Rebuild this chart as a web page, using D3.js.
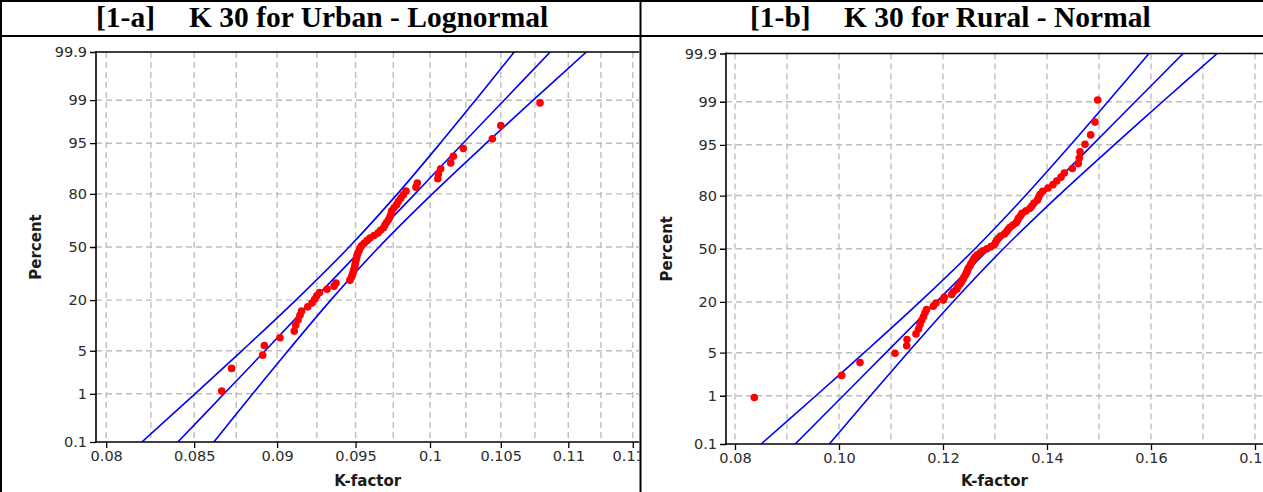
<!DOCTYPE html>
<html>
<head>
<meta charset="utf-8">
<script src="https://cdn.jsdelivr.net/npm/d3@7/dist/d3.min.js"></script>
<style>
body { margin: 0; background: #fff; }
</style>
</head>
<body>
<svg id="chart" width="1263" height="492"></svg>
<script>
// ---------------- data ----------------
var pctTicks = [0.1, 1, 5, 20, 50, 80, 95, 99, 99.9];
var urbanTicks = [0.08, 0.085, 0.09, 0.095, 0.1, 0.105, 0.11, 0.115];
var urbanGrid = [0.08, 0.0825, 0.085, 0.0875, 0.09, 0.0925, 0.095, 0.0975, 0.1, 0.1025, 0.105, 0.1075, 0.11, 0.1125, 0.115];
var ruralTicks = [0.08, 0.10, 0.12, 0.14, 0.16, 0.18];
var ruralGrid = [0.08, 0.09, 0.10, 0.11, 0.12, 0.13, 0.14, 0.15, 0.16, 0.17, 0.18];

// urban points (K-factor, percent)
var urbanK = [0.08663, 0.08722, 0.08911, 0.08921, 0.09018, 0.09107, 0.09116, 0.09131, 0.09143, 0.09153,
  0.09192, 0.09219, 0.09236, 0.09249, 0.09267, 0.09315, 0.09360, 0.09373, 0.09463, 0.09473,
  0.09480, 0.09485, 0.09490, 0.09495, 0.09498, 0.09501, 0.09505, 0.09509, 0.09514, 0.09522,
  0.09529, 0.09539, 0.09556, 0.09575, 0.09595, 0.09622, 0.09648, 0.09665, 0.09685, 0.09694,
  0.09706, 0.09719, 0.09728, 0.09735, 0.09740, 0.09755, 0.09773, 0.09784, 0.09800, 0.09818,
  0.09836, 0.09904, 0.09913, 0.10054, 0.10058, 0.10074, 0.10144, 0.10162, 0.10232, 0.10439,
  0.10500, 0.10788];
var urbanPct = [1.12, 2.72, 4.33, 5.93, 7.53, 9.13, 10.74, 12.34, 13.94, 15.54,
  17.15, 18.75, 20.35, 21.96, 23.56, 25.16, 26.76, 28.37, 29.97, 31.57,
  33.17, 34.78, 36.38, 37.98, 39.58, 41.19, 42.79, 44.39, 45.99, 47.60,
  49.20, 50.80, 52.40, 54.01, 55.61, 57.21, 58.81, 60.42, 62.02, 63.62,
  65.22, 66.83, 68.43, 70.03, 71.63, 73.24, 74.84, 76.44, 78.04, 79.65,
  81.25, 82.85, 84.46, 86.06, 87.66, 89.26, 90.87, 92.47, 94.07, 95.67,
  97.28, 98.88];

// rural points (K-factor, percent)
var ruralK = [0.08371, 0.10052, 0.10404, 0.11077, 0.11302, 0.11308, 0.11481, 0.11529, 0.11558, 0.11590,
  0.11625, 0.11654, 0.11683, 0.11813, 0.11865, 0.12006, 0.12025, 0.12167, 0.12198, 0.12263,
  0.12288, 0.12327, 0.12356, 0.12385, 0.12404, 0.12433, 0.12456, 0.12471, 0.12490, 0.12519,
  0.12538, 0.12567, 0.12587, 0.12615, 0.12654, 0.12712, 0.12769, 0.12846, 0.12923, 0.12990,
  0.13010, 0.13033, 0.13067, 0.13106, 0.13183, 0.13221, 0.13250, 0.13288, 0.13346, 0.13404,
  0.13433, 0.13452, 0.13490, 0.13519, 0.13596, 0.13673, 0.13712, 0.13750, 0.13813, 0.13837,
  0.13865, 0.13917, 0.14019, 0.14115, 0.14187, 0.14269, 0.14333, 0.14487, 0.14602, 0.14621,
  0.14635, 0.14731, 0.14840, 0.14923, 0.14975];
var ruralPct = [0.93, 2.25, 3.58, 4.91, 6.23, 7.56, 8.89, 10.21, 11.54, 12.86,
  14.19, 15.52, 16.84, 18.17, 19.50, 20.82, 22.15, 23.47, 24.80, 26.13,
  27.45, 28.78, 30.11, 31.43, 32.76, 34.08, 35.41, 36.74, 38.06, 39.39,
  40.72, 42.04, 43.37, 44.69, 46.02, 47.35, 48.67, 50.00, 51.33, 52.65,
  53.98, 55.31, 56.63, 57.96, 59.28, 60.61, 61.94, 63.26, 64.59, 65.92,
  67.24, 68.57, 69.89, 71.22, 72.55, 73.87, 75.20, 76.53, 77.85, 79.18,
  80.50, 81.83, 83.16, 84.48, 85.81, 87.14, 88.46, 89.79, 91.11, 92.44,
  93.77, 95.09, 96.42, 97.75, 99.07];

// fitted line and 95% confidence band, read at the percent ticks
var bandPct = [0.1, 1, 5, 20, 50, 80, 95, 99, 99.9];
var urbanFit = [0.08405, 0.08677, 0.08926, 0.09226, 0.09556, 0.09897, 0.10230, 0.10524, 0.10864];
var urbanLo = [0.08199, 0.08505, 0.08784, 0.09117, 0.09458, 0.09778, 0.10071, 0.10318, 0.10598];
var urbanHi = [0.08616, 0.08850, 0.09068, 0.09339, 0.09655, 0.10016, 0.10395, 0.10737, 0.11138];
var ruralFit = [0.09158, 0.10081, 0.10903, 0.11872, 0.12888, 0.13904, 0.14874, 0.15696, 0.16618];
var ruralLo = [0.08502, 0.09555, 0.10484, 0.11554, 0.12615, 0.13586, 0.14455, 0.15170, 0.15962];
var ruralHi = [0.09814, 0.10606, 0.11322, 0.12190, 0.13161, 0.14222, 0.15293, 0.16221, 0.17274];

// ---------------- helpers ----------------
// inverse standard normal cdf (Acklam), used for the probability axis
function probit(p) {
  var a = [-3.969683028665376e+01, 2.209460984245205e+02, -2.759285104469687e+02, 1.383577518672690e+02, -3.066479806614716e+01, 2.506628277459239e+00];
  var b = [-5.447609879822406e+01, 1.615858368580409e+02, -1.556989798598866e+02, 6.680131188771972e+01, -1.328068155288572e+01];
  var c = [-7.784894002430293e-03, -3.223964580411365e-01, -2.400758277161838e+00, -2.549732539343734e+00, 4.374664141464968e+00, 2.938163982698783e+00];
  var d = [7.784695709041462e-03, 3.224671290700398e-01, 2.445134137142996e+00, 3.754408661907416e+00];
  var pl = 0.02425, q, r;
  if (p < pl) {
    q = Math.sqrt(-2 * Math.log(p));
    return (((((c[0]*q+c[1])*q+c[2])*q+c[3])*q+c[4])*q+c[5]) / ((((d[0]*q+d[1])*q+d[2])*q+d[3])*q+1);
  }
  if (p > 1 - pl) {
    q = Math.sqrt(-2 * Math.log(1 - p));
    return -(((((c[0]*q+c[1])*q+c[2])*q+c[3])*q+c[4])*q+c[5]) / ((((d[0]*q+d[1])*q+d[2])*q+d[3])*q+1);
  }
  q = p - 0.5; r = q * q;
  return (((((a[0]*r+a[1])*r+a[2])*r+a[3])*r+a[4])*r+a[5])*q / (((((b[0]*r+b[1])*r+b[2])*r+b[3])*r+b[4])*r+1);
}

var svg = d3.select("#chart");
var tickFont = "'DejaVu Sans', Verdana, sans-serif";

// ---------------- table frame + titles ----------------
svg.append("line").attr("x1", 0).attr("x2", 1263).attr("y1", 1).attr("y2", 1).attr("stroke", "#000").attr("stroke-width", 2);
svg.append("line").attr("x1", 0).attr("x2", 1263).attr("y1", 36).attr("y2", 36).attr("stroke", "#000").attr("stroke-width", 2);
svg.append("line").attr("x1", 1).attr("x2", 1).attr("y1", 0).attr("y2", 492).attr("stroke", "#000").attr("stroke-width", 2);
svg.append("line").attr("x1", 640.5).attr("x2", 640.5).attr("y1", 0).attr("y2", 492).attr("stroke", "#000").attr("stroke-width", 2);

function title(x1, x2, tag, txt) {
  var g = svg.append("g").style("font-family", "'Liberation Serif', 'Times New Roman', serif").style("font-weight", "bold").style("font-size", "29.5px").attr("fill", "#000");
  g.append("text").attr("x", x1).attr("y", 27).text(tag);
  g.append("text").attr("x", x2).attr("y", 27).text(txt);
}
title(96, 189, "[1-a]", "K 30 for Urban - Lognormal");
title(750, 844, "[1-b]", "K 30 for Rural - Normal");

// ---------------- one probability plot ----------------
function drawPanel(cfg) {
  var id = cfg.id;
  var x = cfg.x, y = cfg.y;
  var top = y.range()[1], bottom = y.range()[0], left = x.range()[0];

  svg.append("clipPath").attr("id", id + "_cell").append("rect")
    .attr("x", cfg.cell[0]).attr("y", 37).attr("width", cfg.cell[1] - cfg.cell[0]).attr("height", 455);
  svg.append("clipPath").attr("id", id + "_plot").append("rect")
    .attr("x", left).attr("y", top).attr("width", cfg.cell[1] - left).attr("height", bottom - top);

  var cell = svg.append("g").attr("clip-path", "url(#" + id + "_cell)");
  var plot = cell.append("g").attr("clip-path", "url(#" + id + "_plot)");

  // grid
  plot.selectAll(".vg").data(cfg.grid).enter().append("line")
    .attr("x1", function(d) { return x(d); }).attr("x2", function(d) { return x(d); })
    .attr("y1", top).attr("y2", bottom)
    .attr("stroke", "#bdbdbd").attr("stroke-width", 1.4).attr("stroke-dasharray", "6,4");
  plot.selectAll(".hg").data(pctTicks.slice(1, -1)).enter().append("line")
    .attr("x1", left).attr("x2", cfg.cell[1])
    .attr("y1", function(d) { return y(probit(d / 100)); }).attr("y2", function(d) { return y(probit(d / 100)); })
    .attr("stroke", "#bdbdbd").attr("stroke-width", 1.4).attr("stroke-dasharray", "6,4");

  // fit and confidence curves
  var line = d3.line()
    .x(function(d) { return x(d[0]); })
    .y(function(d) { return y(probit(d[1] / 100)); })
    .curve(d3.curveCatmullRom);
  [cfg.lo, cfg.fit, cfg.hi].forEach(function(arr) {
    plot.append("path")
      .datum(arr.map(function(k, i) { return [k, bandPct[i]]; }))
      .attr("d", line).attr("fill", "none").attr("stroke", "#0000ff").attr("stroke-width", 1.6);
  });

  // points
  plot.selectAll(".pt").data(cfg.k).enter().append("circle")
    .attr("cx", function(d) { return x(d); })
    .attr("cy", function(d, i) { return y(probit(cfg.pct[i] / 100)); })
    .attr("r", 3.8).attr("fill", "#ff0000");

  // frame top
  cell.append("line").attr("x1", left).attr("x2", cfg.cell[1]).attr("y1", top).attr("y2", top)
    .attr("stroke", "#000").attr("stroke-width", 1.6);

  // y axis
  var ya = cell.append("g").attr("transform", "translate(" + left + ",0)")
    .call(d3.axisLeft(y).tickValues(pctTicks.map(function(p) { return probit(p / 100); }))
      .tickFormat(function(d, i) { return pctTicks[i]; }).tickSize(6).tickSizeOuter(0));
  // x axis
  var xa = cell.append("g").attr("transform", "translate(0," + bottom + ")")
    .call(d3.axisBottom(x).tickValues(cfg.ticks).tickFormat(cfg.fmt).tickSize(6).tickSizeOuter(0));
  [ya, xa].forEach(function(a) {
    a.select(".domain").attr("stroke", "#000").attr("stroke-width", 1.6);
    a.selectAll(".tick line").attr("stroke", "#000").attr("stroke-width", 1.3);
    a.selectAll("text").style("font-family", tickFont).style("font-size", "14.5px").attr("fill", "#2b2b2b");
  });
  ya.select(".domain").attr("d", "M0," + (top - 1) + "V" + (bottom + 1));
  xa.select(".domain").attr("d", "M" + (left - 1) + ",0H" + cfg.cell[1]);

  // axis titles
  cell.append("text").attr("x", (left + cfg.cell[1]) / 2).attr("y", 486).attr("text-anchor", "middle")
    .style("font-family", tickFont).style("font-weight", "bold").style("font-size", "15px").attr("fill", "#1a1a1a")
    .text("K-factor");
  cell.append("g").attr("transform", "translate(" + cfg.ylab + "," + ((top + bottom) / 2) + ")")
    .append("text").attr("text-anchor", "middle").attr("transform", "rotate(-90)")
    .style("font-family", tickFont).style("font-weight", "bold").style("font-size", "15px").attr("fill", "#1a1a1a")
    .text("Percent");
}

var zEdge = probit(0.999);

drawPanel({
  id: "urban",
  x: d3.scaleLog().domain([0.07944, 0.1175]).range([96, 664]),
  y: d3.scaleLinear().domain([-zEdge, zEdge]).range([442, 52]),
  grid: urbanGrid, ticks: urbanTicks, fmt: function(d) { return String(d); },
  k: urbanK, pct: urbanPct, fit: urbanFit, lo: urbanLo, hi: urbanHi,
  cell: [2, 639.5], ylab: 41
});

drawPanel({
  id: "rural",
  x: d3.scaleLinear().domain([0.07827, 0.185]).range([726, 1281]),
  y: d3.scaleLinear().domain([-zEdge, zEdge]).range([444, 53.5]),
  grid: ruralGrid, ticks: ruralTicks, fmt: d3.format(".2f"),
  k: ruralK, pct: ruralPct, fit: ruralFit, lo: ruralLo, hi: ruralHi,
  cell: [641.5, 1263], ylab: 672
});
</script>
</body>
</html>
